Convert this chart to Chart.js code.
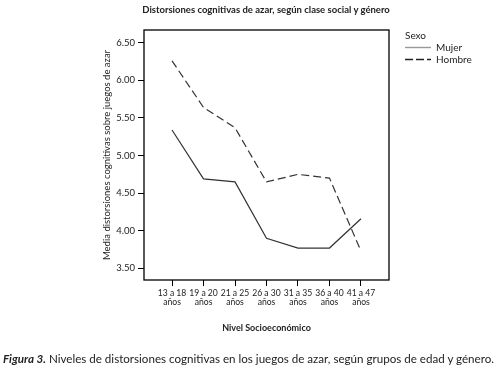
<!DOCTYPE html>
<html>
<head>
<meta charset="utf-8">
<script src="https://cdn.jsdelivr.net/npm/chart.js@4"></script>
<style>
  body { margin: 0; background: #fff; font-family: Lato, sans-serif; color: #222; }
  #wrap { position: relative; width: 499px; height: 379px; }
  #wrap canvas { position: absolute; left: 0; top: 0; }
  .txt { position: absolute; white-space: nowrap; line-height: 1; }
  #title { left: 266px; top: 5px; transform: translateX(-50%); font-size: 9.5px; font-weight: bold; }
  #legend { left: 405px; top: 30px; font-size: 10px; }
  #legend .row { position: relative; height: 11.5px; padding-left: 31px; }
  #legend .row svg { position: absolute; left: 0; top: 4px; }
  #caption { left: 3px; top: 353px; font-size: 11.6px; }
  #caption i { font-weight: bold; }
</style>
</head>
<body>
<div id="wrap">
  <canvas id="chart" width="499" height="379"></canvas>
  <div class="txt" id="title">Distorsiones cognitivas de azar, según clase social y género</div>
  <div class="txt" id="legend">
    <div style="height:12px">Sexo</div>
    <div class="row"><svg width="26" height="3"><line x1="0" y1="1.5" x2="26" y2="1.5" stroke="#999" stroke-width="1.4"/></svg>Mujer</div>
    <div class="row"><svg width="26" height="3"><line x1="0" y1="1.5" x2="26" y2="1.5" stroke="#222" stroke-width="1.3" stroke-dasharray="8,3"/></svg>Hombre</div>
  </div>
  <div class="txt" id="caption"><i>Figura 3.</i> Niveles de distorsiones cognitivas en los juegos de azar, según grupos de edad y género.</div>
</div>
<script>
const categories = [['13 a 18', 'años'], ['19 a 20', 'años'], ['21 a 25', 'años'], ['26 a 30', 'años'],
    ['31 a 35', 'años'], ['36 a 40', 'años'], ['41 a 47', 'años']];
const mujer = [5.34, 4.69, 4.65, 3.90, 3.77, 3.77, 4.16];
const hombre = [6.26, 5.64, 5.37, 4.65, 4.75, 4.70, 3.73];
const yTicks = [3.5, 4.0, 4.5, 5.0, 5.5, 6.0, 6.5];

const toPoints = arr => arr.map((y, i) => ({ x: i, y: y }));

// marco completo alrededor del area del grafico
const boxPlugin = {
    id: 'box',
    afterDraw(chart) {
        const a = chart.chartArea, ctx = chart.ctx;
        ctx.save();
        ctx.strokeStyle = '#000';
        ctx.lineWidth = 1.3;
        ctx.strokeRect(a.left, a.top, a.right - a.left, a.bottom - a.top);
        ctx.restore();
    }
};

new Chart(document.getElementById('chart'), {
    type: 'line',
    data: {
        datasets: [
            {
                label: 'Mujer',
                data: toPoints(mujer),
                borderColor: '#333',
                borderWidth: 1.2,
                pointRadius: 0,
                tension: 0,
            },
            {
                label: 'Hombre',
                data: toPoints(hombre),
                borderColor: '#333',
                borderWidth: 1.2,
                borderDash: [8, 4],
                pointRadius: 0,
                tension: 0,
            },
        ],
    },
    options: {
        responsive: false,
        animation: false,
        layout: { padding: { left: 95, top: 30, right: 110, bottom: 0 } },
        plugins: {
            legend: { display: false },
            title: { display: false },
            tooltip: { enabled: false },
        },
        scales: {
            x: {
                type: 'linear',
                min: -0.89,
                max: 6.89,
                afterFit: s => { s.height = 99; },
                afterBuildTicks: s => { s.ticks = categories.map((c, i) => ({ value: i })); },
                border: { display: false },
                grid: { drawOnChartArea: false, tickLength: 6, color: '#000' },
                ticks: {
                    autoSkip: false,
                    maxRotation: 0,
                    padding: 3,
                    color: '#222',
                    font: { family: 'Lato', size: 8.6, lineHeight: 1 },
                    callback: v => categories[v],
                },
                title: {
                    display: true,
                    text: 'Nivel Socioeconómico',
                    color: '#222',
                    font: { family: 'Lato', size: 9, weight: 'bold' },
                    padding: { top: 0, bottom: 46 },
                },
            },
            y: {
                min: 3.345,
                max: 6.67,
                afterFit: s => { s.width = 49; },
                afterBuildTicks: s => { s.ticks = yTicks.map(v => ({ value: v })); },
                border: { display: false },
                grid: { drawOnChartArea: false, tickLength: 6, color: '#000' },
                ticks: {
                    padding: 3,
                    color: '#222',
                    font: { family: 'Lato', size: 9.5 },
                    callback: v => v.toFixed(2),
                },
                title: {
                    display: true,
                    text: 'Media distorsiones cognitivas sobre juegos de azar',
                    color: '#222',
                    font: { family: 'Lato', size: 9.5 },
                    padding: { top: 6, bottom: 0 },
                },
            },
        },
    },
    plugins: [boxPlugin],
});
</script>
</body>
</html>
